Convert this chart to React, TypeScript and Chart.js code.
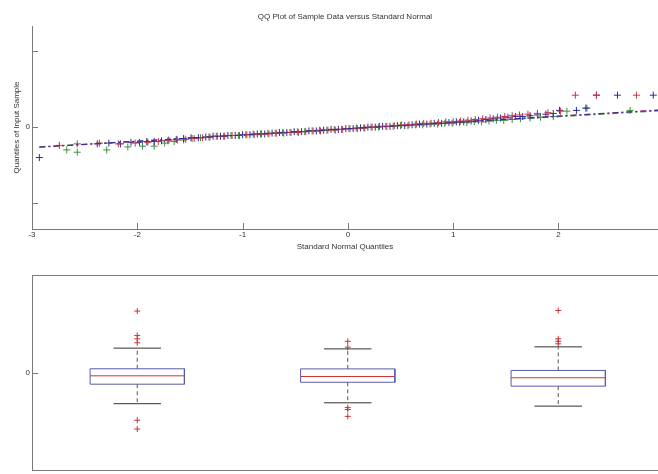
import React, { useEffect, useRef } from "react";
import { Chart, registerables } from "chart.js";
Chart.register(...registerables);

// ---------- QQ plot data ----------
const qqTitle = "QQ Plot of Sample Data versus Standard Normal";
const qqXLabel = "Standard Normal Quantiles";
const qqYLabel = "Quantiles of Input Sample";
const qqXTicks = [-3, -2, -1, 0, 1, 2];
const qqYTicks = [-1, 0, 1];

const blueX = [-2.93, -2.38, -2.27, -2.16, -2.06, -1.98, -1.91, -1.84, -1.77, -1.7, -1.63, -1.56, -1.49, -1.42, -1.35, -1.28, -1.21, -1.14, -1.07, -1.0, -0.93, -0.86, -0.79, -0.72, -0.65, -0.58, -0.51, -0.44, -0.37, -0.3, -0.23, -0.16, -0.09, -0.02, 0.05, 0.12, 0.19, 0.26, 0.33, 0.4, 0.47, 0.54, 0.61, 0.68, 0.75, 0.82, 0.89, 0.96, 1.03, 1.1, 1.17, 1.24, 1.31, 1.38, 1.45, 1.52, 1.59, 1.66, 1.73, 1.8, 1.88, 1.95, 2.01, 2.17, 2.26, 2.36, 2.56, 2.9];
const blueY = [-0.4, -0.22, -0.21, -0.22, -0.2, -0.2, -0.19, -0.19, -0.18, -0.17, -0.16, -0.15, -0.14, -0.14, -0.13, -0.12, -0.12, -0.11, -0.11, -0.1, -0.1, -0.09, -0.09, -0.08, -0.07, -0.07, -0.06, -0.06, -0.05, -0.05, -0.04, -0.03, -0.03, -0.02, -0.02, -0.01, 0.0, 0.0, 0.01, 0.01, 0.02, 0.02, 0.03, 0.04, 0.04, 0.05, 0.05, 0.06, 0.07, 0.07, 0.08, 0.09, 0.1, 0.11, 0.12, 0.13, 0.14, 0.14, 0.15, 0.16, 0.17, 0.18, 0.22, 0.22, 0.25, 0.42, 0.42, 0.42];

const redX = [-2.74, -2.57, -2.36, -2.18, -2.02, -1.9, -1.8, -1.71, -1.62, -1.54, -1.46, -1.38, -1.31, -1.24, -1.17, -1.1, -1.03, -0.96, -0.89, -0.82, -0.75, -0.68, -0.61, -0.54, -0.47, -0.4, -0.33, -0.26, -0.19, -0.12, -0.05, 0.02, 0.09, 0.16, 0.23, 0.3, 0.37, 0.44, 0.51, 0.58, 0.65, 0.72, 0.79, 0.86, 0.93, 1.0, 1.07, 1.14, 1.21, 1.28, 1.35, 1.42, 1.49, 1.56, 1.63, 1.71, 1.8, 1.9, 2.02, 2.16, 2.36, 2.74];
const redY = [-0.24, -0.22, -0.21, -0.22, -0.21, -0.2, -0.19, -0.18, -0.17, -0.16, -0.15, -0.14, -0.13, -0.12, -0.12, -0.11, -0.11, -0.1, -0.1, -0.09, -0.09, -0.08, -0.08, -0.07, -0.07, -0.06, -0.05, -0.05, -0.04, -0.04, -0.03, -0.02, -0.02, -0.01, 0.0, 0.01, 0.01, 0.02, 0.03, 0.03, 0.04, 0.05, 0.05, 0.06, 0.07, 0.07, 0.08, 0.09, 0.1, 0.11, 0.12, 0.13, 0.14, 0.15, 0.16, 0.17, 0.18, 0.19, 0.21, 0.42, 0.42, 0.42];

const greenX = [-2.67, -2.57, -2.29, -2.09, -1.95, -1.84, -1.74, -1.65, -1.56, -1.48, -1.4, -1.32, -1.25, -1.18, -1.11, -1.04, -0.97, -0.9, -0.83, -0.76, -0.69, -0.62, -0.55, -0.48, -0.41, -0.34, -0.27, -0.2, -0.13, -0.06, 0.01, 0.08, 0.15, 0.22, 0.29, 0.36, 0.43, 0.5, 0.57, 0.64, 0.71, 0.78, 0.85, 0.92, 0.99, 1.06, 1.13, 1.2, 1.27, 1.34, 1.41, 1.48, 1.56, 1.64, 1.73, 1.83, 1.95, 2.08, 2.27, 2.68];
const greenY = [-0.3, -0.33, -0.3, -0.26, -0.25, -0.25, -0.21, -0.19, -0.17, -0.15, -0.14, -0.13, -0.12, -0.12, -0.11, -0.11, -0.1, -0.09, -0.09, -0.08, -0.08, -0.07, -0.07, -0.06, -0.06, -0.05, -0.04, -0.04, -0.03, -0.03, -0.02, -0.01, -0.01, 0.0, 0.0, 0.01, 0.01, 0.02, 0.02, 0.03, 0.03, 0.04, 0.04, 0.05, 0.05, 0.06, 0.06, 0.07, 0.07, 0.08, 0.09, 0.09, 0.1, 0.11, 0.12, 0.13, 0.14, 0.21, 0.25, 0.22];

const refLineX = [-2.93, 2.95];
const blueRefY = [-0.262, 0.222];
const redRefY = [-0.266, 0.226];
const greenRefY = [-0.258, 0.212];

// ---------- Box plot data ----------
const boxPositions = [1, 2, 3];
const boxQ1 = [-0.12, -0.1, -0.14];
const boxQ3 = [0.038, 0.037, 0.021];
const boxMedian = [-0.034, -0.041, -0.054];
const boxWhiskerLow = [-0.32, -0.311, -0.345];
const boxWhiskerHigh = [0.25, 0.242, 0.263];
const boxOutliers1 = [0.63, 0.38, 0.345, 0.305, -0.49, -0.58];
const boxOutliers2 = [0.32, 0.26, -0.36, -0.38, -0.45];
const boxOutliers3 = [0.636, 0.345, 0.32, 0.294];
const boxYTicks = [0];

// ---------- styling ----------
const FONT = "'Liberation Sans', Arial, sans-serif";
const TEXT = "#333333";
const AXIS = "#7a7a7a";
const BLUE = "#2b2ba0";
const RED = "#cc3344";
const GREEN = "#3f8f3f";
const BOX_BLUE = "#5a5aa8";
const MED_RED = "#cc3333";
const BOX_HALF = 0.224;
const CAP_HALF = 0.113;

const inwardTicks = {
  id: "inwardTicks",
  afterDraw(chart: any, _args: any, opts: any) {
    const { ctx, chartArea } = chart;
    ctx.save();
    ctx.strokeStyle = opts.color || AXIS;
    ctx.lineWidth = 1;
    if (opts.x) {
      const xs = chart.scales.x;
      for (const t of xs.ticks) {
        const px = Math.round(xs.getPixelForValue(t.value)) + 0.5;
        ctx.beginPath();
        ctx.moveTo(px, chartArea.bottom);
        ctx.lineTo(px, chartArea.bottom - 6);
        ctx.stroke();
      }
    }
    if (opts.y) {
      const ys = chart.scales.y;
      for (const t of ys.ticks) {
        const py = Math.round(ys.getPixelForValue(t.value)) + 0.5;
        ctx.beginPath();
        ctx.moveTo(chartArea.left, py);
        ctx.lineTo(chartArea.left + 6, py);
        ctx.stroke();
      }
    }
    if (opts.frameTop) {
      const y = Math.round(chartArea.top) + 0.5;
      ctx.beginPath();
      ctx.moveTo(chartArea.left, y);
      ctx.lineTo(chartArea.right, y);
      ctx.stroke();
    }
    ctx.restore();
  },
};

const font8 = { family: FONT, size: 8, weight: "normal" as const };

function pts(xs: number[], ys: number[]) {
  return xs.map((x, i) => ({ x, y: ys[i] }));
}

function fixY(s: any) {
  s.width = 32;
  s.paddingTop = 0;
  s.paddingBottom = 0;
}

function qqConfig(): any {
  const lineDs = (ys: number[], color: string) => ({
    data: pts(refLineX, ys),
    showLine: true,
    borderColor: color,
    borderWidth: 1,
    borderDash: [6, 3, 2, 3],
    pointRadius: 0,
  });
  const markDs = (xs: number[], ys: number[], color: string) => ({
    data: pts(xs, ys),
    showLine: false,
    pointStyle: "cross",
    pointRadius: 3.5,
    pointBorderWidth: 1,
    borderColor: color,
    backgroundColor: color,
  });
  return {
    type: "scatter",
    data: {
      datasets: [
        lineDs(blueRefY, BLUE),
        lineDs(redRefY, RED),
        lineDs(greenRefY, GREEN),
        markDs(redX, redY, RED),
        markDs(blueX, blueY, BLUE),
        markDs(greenX, greenY, GREEN),
      ],
    },
    options: {
      animation: false,
      responsive: false,
      events: [],
      layout: { padding: 0, autoPadding: false },
      plugins: {
        legend: { display: false },
        tooltip: { enabled: false },
        title: {
          display: true,
          fullSize: false,
          text: qqTitle,
          color: TEXT,
          font: font8,
          padding: { top: 12, bottom: 4.4 },
        },
        inwardTicks: { x: true, y: true },
      },
      scales: {
        x: {
          type: "linear",
          min: -3,
          max: 2.945,
          afterBuildTicks: (s: any) => {
            s.ticks = qqXTicks.map((v) => ({ value: v }));
          },
          afterFit: (s: any) => {
            s.height = 26;
          },
          grid: { display: false, drawTicks: false },
          border: { display: true, color: AXIS },
          ticks: { color: TEXT, font: font8, padding: 1, maxRotation: 0, autoSkip: false },
          title: { display: true, text: qqXLabel, color: TEXT, font: font8, padding: { top: 0, bottom: 3.7 } },
        },
        y: {
          type: "linear",
          min: -1.34,
          max: 1.33,
          afterBuildTicks: (s: any) => {
            s.ticks = qqYTicks.map((v) => ({ value: v }));
          },
          afterFit: fixY,
          grid: { display: false, drawTicks: false },
          border: { display: true, color: AXIS },
          ticks: {
            color: TEXT,
            font: font8,
            padding: 2,
            callback: (v: any) => (v === 0 ? "0" : ""),
          },
          title: { display: true, text: qqYLabel, color: TEXT, font: font8, padding: { top: 11.5, bottom: 0 } },
        },
      },
    },
  };
}

function boxConfig(): any {
  const outlierGroups = [boxOutliers1, boxOutliers2, boxOutliers3];
  const datasets: any[] = [];
  const seg = (data: any[], color: string, dash: number[] = []) => ({
    data,
    showLine: true,
    borderColor: color,
    borderWidth: 1,
    borderDash: dash,
    pointRadius: 0,
  });
  boxPositions.forEach((p, i) => {
    datasets.push(seg([
      { x: p - BOX_HALF, y: boxQ1[i] },
      { x: p - BOX_HALF, y: boxQ3[i] },
      { x: p + BOX_HALF, y: boxQ3[i] },
      { x: p + BOX_HALF, y: boxQ1[i] },
      { x: p - BOX_HALF, y: boxQ1[i] },
    ], BOX_BLUE));
    datasets.push(seg([{ x: p - BOX_HALF, y: boxMedian[i] }, { x: p + BOX_HALF, y: boxMedian[i] }], MED_RED));
    datasets.push(seg([{ x: p, y: boxQ3[i] }, { x: p, y: boxWhiskerHigh[i] }], "#555555", [4, 3]));
    datasets.push(seg([{ x: p, y: boxQ1[i] }, { x: p, y: boxWhiskerLow[i] }], "#555555", [4, 3]));
    datasets.push(seg([{ x: p - CAP_HALF, y: boxWhiskerHigh[i] }, { x: p + CAP_HALF, y: boxWhiskerHigh[i] }], "#333333"));
    datasets.push(seg([{ x: p - CAP_HALF, y: boxWhiskerLow[i] }, { x: p + CAP_HALF, y: boxWhiskerLow[i] }], "#333333"));
    datasets.push({
      data: outlierGroups[i].map((y) => ({ x: p, y })),
      showLine: false,
      pointStyle: "cross",
      pointRadius: 3,
      pointBorderWidth: 1,
      borderColor: MED_RED,
      backgroundColor: MED_RED,
    });
  });
  return {
    type: "scatter",
    data: { datasets },
    options: {
      animation: false,
      responsive: false,
      events: [],
      layout: { padding: { top: 20, left: 0, right: 0, bottom: 0 }, autoPadding: false },
      plugins: {
        legend: { display: false },
        tooltip: { enabled: false },
        title: { display: false },
        inwardTicks: { y: true, frameTop: true },
      },
      scales: {
        x: {
          type: "linear",
          min: 0.5,
          max: 3.474,
          afterBuildTicks: (s: any) => {
            s.ticks = boxPositions.map((v) => ({ value: v }));
          },
          afterFit: (s: any) => {
            s.height = 4;
            s.paddingLeft = 0;
            s.paddingRight = 0;
          },
          grid: { display: false, drawTicks: false },
          border: { display: true, color: AXIS },
          ticks: { display: false },
        },
        y: {
          type: "linear",
          min: -1,
          max: 1,
          afterBuildTicks: (s: any) => {
            s.ticks = boxYTicks.map((v) => ({ value: v }));
          },
          afterFit: fixY,
          grid: { display: false, drawTicks: false },
          border: { display: true, color: AXIS },
          ticks: { color: TEXT, font: font8, padding: 2, callback: (v: any) => String(v) },
        },
      },
    },
  };
}

function ChartCanvas({ config, width, height, top }: { config: () => any; width: number; height: number; top: number }) {
  const ref = useRef<HTMLCanvasElement | null>(null);
  useEffect(() => {
    if (!ref.current) return;
    const chart = new Chart(ref.current, { ...config(), plugins: [inwardTicks] });
    return () => chart.destroy();
  }, []);
  return (
    <canvas
      ref={ref}
      width={width}
      height={height}
      style={{ position: "absolute", left: 0, top, width, height, display: "block" }}
    />
  );
}

export default function App() {
  return (
    <div style={{ position: "fixed", left: 0, top: 0, width: 658, height: 474, background: "#ffffff", overflow: "hidden" }}>
      <ChartCanvas config={qqConfig} width={658} height={255} top={0} />
      <ChartCanvas config={boxConfig} width={658} height={219} top={255} />
    </div>
  );
}
